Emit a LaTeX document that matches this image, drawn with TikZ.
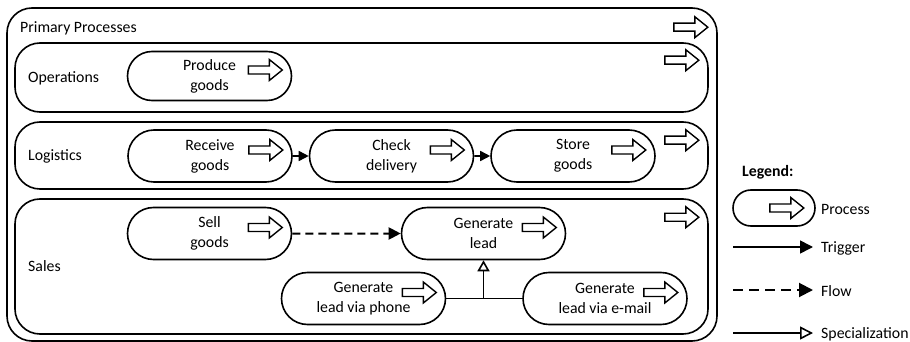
\documentclass[tikz,border=0pt]{standalone}
\usepackage{fontspec}
\setmainfont{Carlito}
\usetikzlibrary{shapes.misc,arrows.meta,calc}
\tikzset{
  txt/.style={font=\fontsize{15.8pt}{20pt}\selectfont, inner sep=0pt},
  lane/.style={draw, line width=1.6pt, rounded corners=25pt},
  proc/.style={draw, line width=1.6pt, rounded rectangle, minimum width=164pt, minimum height=52pt,
    align=center, font=\fontsize{15.8pt}{20pt}\selectfont, inner sep=0pt},
  blockarr/.pic={\draw[line width=1.4pt, fill=white, line join=miter]
      (-17,-4)--(4,-4)--(4,-10.5)--(17,0)--(4,10.5)--(4,4)--(-17,4)--cycle;},
  trigger/.style={line width=1.6pt, -{Triangle[length=10pt,width=10pt]}},
  flow/.style={line width=2pt, dash pattern=on 8pt off 5pt, -{Triangle[length=12pt,width=12pt]}},
  spec/.style={line width=1.6pt, -{Triangle[open,length=11pt,width=12pt,fill=white]}},
}
\begin{document}
\begin{tikzpicture}[x=1pt,y=-1pt]
\useasboundingbox (0,0) rectangle (910,342);
% outer and lanes
\node[lane, minimum width=710pt, minimum height=333pt] (outer) at (362,174.5) {};
\node[lane, minimum width=693pt, minimum height=69pt] (ops) at (361.5,77.5) {};
\node[lane, minimum width=693pt, minimum height=67pt] (log) at (361.5,155.5) {};
\node[lane, minimum width=693pt, minimum height=135pt] (sales) at (361.5,266.5) {};
\pic at ([shift={(-27,20)}]outer.north east) {blockarr};
\pic at ([shift={(-27,18)}]ops.north east) {blockarr};
\pic at ([shift={(-27,19)}]log.north east) {blockarr};
\pic at ([shift={(-27,19)}]sales.north east) {blockarr};
% labels
\node[txt, anchor=west] (lpp) at (20,28) {Primary Processes};
\node[txt, anchor=west] (lops) at (28,78) {Operations};
\node[txt, anchor=west] (llog) at (28,156) {Logistics};
\node[txt, anchor=west] (lsal) at (28,266) {Sales};
% processes
\node[proc, minimum height=49pt] (produce) at (209.5,76) {Produce\\goods};
\node[proc] (receive) at (210,156) {Receive\\goods};
\node[proc] (check) at (391.5,156) {Check\\delivery};
\node[proc] (store) at (573,156) {Store\\goods};
\node[proc] (sell) at (209.5,233.5) {Sell\\goods};
\node[proc] (lead) at (483.5,233.5) {Generate\\lead};
\node[proc] (phone) at (363.5,298.5) {Generate\\lead via phone};
\node[proc] (email) at (605,298.5) {Generate\\lead via e-mail};
\foreach \n in {produce,receive,check,store,sell,lead,phone,email}
  \pic at ([shift={(-27,-6)}]\n.east) {blockarr};
% connectors
\draw[trigger] (receive) -- (check);
\draw[trigger] (check) -- (store);
\draw[flow] (sell) -- (lead);
\draw[line width=1.6pt] (phone.east) -- (email.west);
\coordinate (junc) at (lead.south |- phone.east);
\draw[spec] (junc) -- (lead.south);
% legend
\node[txt, anchor=west, font=\fontsize{15.8pt}{20pt}\selectfont\bfseries] (legt) at (742,172) {Legend:};
\node[proc, minimum width=82pt, minimum height=36pt] (legp) at (774,208) {};
\pic at ([shift={(-29,0)}]legp.east) {blockarr};
\node[txt, anchor=west] (legpt) at (821,209) {Process};
\node[txt, anchor=west] (legtt) at (821,248) {Trigger};
\node[txt, anchor=west] (legft) at (821,291) {Flow};
\node[txt, anchor=west] (legst) at (821,334) {Specialization};
\coordinate (t1) at (733,247); \coordinate (t2) at (813,247);
\coordinate (f1) at (733,290); \coordinate (f2) at (813,290);
\coordinate (s1) at (733,333); \coordinate (s2) at (813,333);
\draw[trigger, -{Triangle[length=13pt,width=13pt]}] (t1) -- (t2);
\draw[flow, dash pattern=on 10pt off 6pt, -{Triangle[length=14pt,width=14pt]}] (f1) -- (f2);
\draw[spec, -{Triangle[open,length=13pt,width=13pt,fill=white]}] (s1) -- (s2);
\end{tikzpicture}
\end{document}
